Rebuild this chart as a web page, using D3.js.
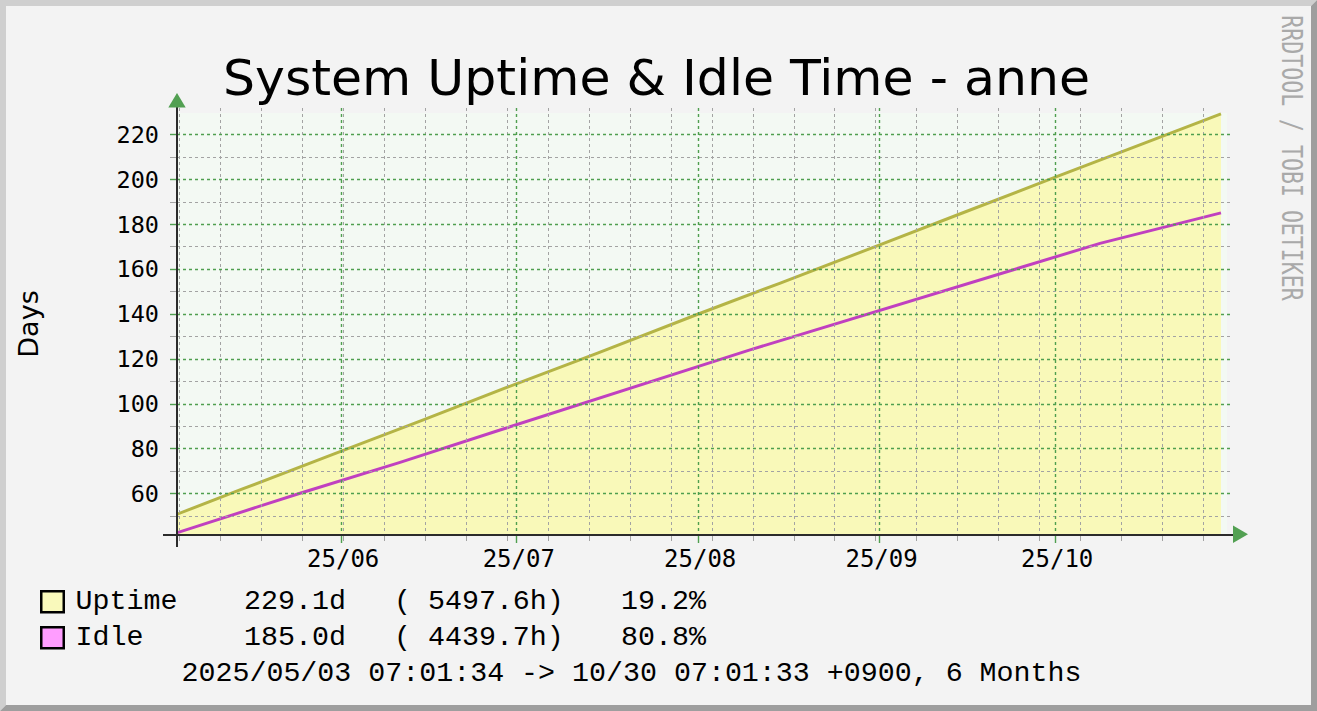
<!DOCTYPE html>
<html><head><meta charset="utf-8">
<script src="https://cdn.jsdelivr.net/npm/d3@7"></script>
<style>html,body{margin:0;padding:0;background:#f3f3f3;}svg{display:block;}</style>
</head><body>
<svg id="c" width="1317" height="711"></svg>
<script>
// ---- data ----
const title = "System Uptime & Idle Time - anne";
const yAxisLabel = "Days";
const watermark = "RRDTOOL / TOBI OETIKER";
const timeStart = "2025-05-03T07:01:34+09:00";
const timeEnd = "2025-10-30T07:01:33+09:00";
const uptimeDates = ["2025-05-03T07:00:00+09:00","2025-05-15T00:00:00+09:00","2025-06-01T00:00:00+09:00","2025-06-15T00:00:00+09:00","2025-07-01T00:00:00+09:00","2025-07-15T00:00:00+09:00","2025-08-01T00:00:00+09:00","2025-08-15T00:00:00+09:00","2025-09-01T00:00:00+09:00","2025-09-15T00:00:00+09:00","2025-10-01T00:00:00+09:00","2025-10-15T00:00:00+09:00","2025-10-29T10:00:00+09:00"];
const uptimeValues = [49.9, 61.7, 78.7, 92.6, 108.8, 122.6, 139.8, 153.6, 170.6, 184.7, 200.8, 214.7, 229.1];
const idleDates = ["2025-05-03T07:00:00+09:00","2025-05-25T01:30:00+09:00","2025-06-11T03:30:00+09:00","2025-06-28T05:20:00+09:00","2025-08-09T22:40:00+09:00","2025-10-08T17:50:00+09:00","2025-10-29T10:00:00+09:00"];
const idleValues = [41.8, 60.0, 73.8, 88.2, 123.9, 171.4, 185.0];
const yMin = 41.4, yMax = 229.5;
const yMajorTicks = [60, 80, 100, 120, 140, 160, 180, 200, 220];
const yMinorTicks = [50, 70, 90, 110, 130, 150, 170, 190, 210];
const monthTicks = ["2025-06-01T00:00:00+09:00","2025-07-01T00:00:00+09:00","2025-08-01T00:00:00+09:00","2025-09-01T00:00:00+09:00","2025-10-01T00:00:00+09:00"];
const monthLabels = ["25/06","25/07","25/08","25/09","25/10"];
const legendNames = ["Uptime", "Idle"];
const legendDays = ["229.1d", "185.0d"];
const legendHours = ["( 5497.6h)", "( 4439.7h)"];
const legendPct = ["19.2%", "80.8%"];
const footer = "2025/05/03 07:01:34 -> 10/30 07:01:33 +0900, 6 Months";

// ---- layout ----
const W = 1317, H = 711;
const pL = 177, pR = 1227, pT = 113, pB = 535;
const svg = d3.select("#c");
const mono = "'DejaVu Sans Mono', monospace";
const legMono = "'Liberation Mono', 'DejaVu Sans Mono', monospace";

// frame
svg.append("rect").attr("width", W).attr("height", H).attr("fill", "#f3f3f3");
svg.append("polygon").attr("points", `0,0 ${W},0 ${W-6},6 6,6 6,${H-6} 0,${H}`).attr("fill", "#cfcfcf");
svg.append("polygon").attr("points", `${W},0 ${W},${H} 0,${H} 6,${H-6} ${W-6},${H-6} ${W-6},6`).attr("fill", "#9e9e9e");

const x = d3.scaleTime().domain([new Date(timeStart), new Date(timeEnd)]).range([172.7, 1226.1]);
const y = d3.scaleLinear().domain([yMin, yMax]).range([pB, pT]);

// canvas
svg.append("rect").attr("x", pL).attr("y", pT).attr("width", pR - pL).attr("height", pB - pT).attr("fill", "#f3f9f3");

svg.append("defs").append("clipPath").attr("id", "clip")
  .append("rect").attr("x", pL).attr("y", pT - 3).attr("width", pR - pL).attr("height", pB - pT + 3);

// area
const up = uptimeDates.map((d, i) => ({t: new Date(d), v: uptimeValues[i]}));
const idle = idleDates.map((d, i) => ({t: new Date(d), v: idleValues[i]}));
const g = svg.append("g").attr("clip-path", "url(#clip)");
g.append("path").datum(up)
  .attr("d", d3.area().x(d => x(d.t)).y0(pB).y1(d => y(d.v)))
  .attr("fill", "#f9f9b9");

// grid
const weekly = d3.timeSunday.range(new Date(timeStart), new Date(timeEnd));
const monthSet = new Set(monthTicks.map(d => +new Date(d)));
const gridG = svg.append("g");
weekly.filter(d => !monthSet.has(+d)).forEach(d => {
  const xx = Math.round(x(d)) + 0.5;
  gridG.append("line").attr("x1", xx).attr("x2", xx).attr("y1", 108).attr("y2", pB)
    .attr("stroke", "#a3a3a3").attr("stroke-width", 1).attr("stroke-dasharray", "3,3");
  gridG.append("line").attr("x1", xx).attr("x2", xx).attr("y1", pB).attr("y2", 541)
    .attr("stroke", "#a3a3a3").attr("stroke-width", 1);
});
yMinorTicks.forEach(v => {
  const yy = Math.round(y(v)) + 0.5;
  gridG.append("line").attr("x1", 170).attr("x2", pL).attr("y1", yy).attr("y2", yy)
    .attr("stroke", "#a3a3a3").attr("stroke-width", 1);
  gridG.append("line").attr("x1", pL).attr("x2", 1233).attr("y1", yy).attr("y2", yy)
    .attr("stroke", "#a3a3a3").attr("stroke-width", 1).attr("stroke-dasharray", "3,3");
});
monthTicks.forEach(d => {
  const xx = Math.round(x(new Date(d))) + 0.5;
  gridG.append("line").attr("x1", xx).attr("x2", xx).attr("y1", 108).attr("y2", pB)
    .attr("stroke", "#4f9f4f").attr("stroke-width", 1.4).attr("stroke-dasharray", "3,3");
  gridG.append("line").attr("x1", xx).attr("x2", xx).attr("y1", pB).attr("y2", 543)
    .attr("stroke", "#4f9f4f").attr("stroke-width", 1.4);
});
yMajorTicks.forEach(v => {
  const yy = Math.round(y(v)) + 0.5;
  gridG.append("line").attr("x1", 170).attr("x2", pL).attr("y1", yy).attr("y2", yy)
    .attr("stroke", "#4f9f4f").attr("stroke-width", 1.4);
  gridG.append("line").attr("x1", pL).attr("x2", 1233).attr("y1", yy).attr("y2", yy)
    .attr("stroke", "#4f9f4f").attr("stroke-width", 1.4).attr("stroke-dasharray", "3,3");
});

// lines
g.append("path").datum(up)
  .attr("d", d3.line().x(d => x(d.t)).y(d => y(d.v)))
  .attr("fill", "none").attr("stroke", "#b4b446").attr("stroke-width", 3);
g.append("path").datum(idle)
  .attr("d", d3.line().x(d => x(d.t)).y(d => y(d.v)))
  .attr("fill", "none").attr("stroke", "#c040c0").attr("stroke-width", 3);

// axes
svg.append("line").attr("x1", 163).attr("x2", 1234).attr("y1", pB).attr("y2", pB).attr("stroke", "#2b2b2b").attr("stroke-width", 2);
svg.append("line").attr("x1", pL).attr("x2", pL).attr("y1", 106).attr("y2", 547).attr("stroke", "#2b2b2b").attr("stroke-width", 2);
svg.append("polygon").attr("points", `168.3,107.5 185.7,107.5 177,93`).attr("fill", "#52a052");
svg.append("polygon").attr("points", `1233,525.5 1233,543 1248,534.3`).attr("fill", "#52a052");

// y labels
svg.append("g").selectAll("text").data(yMajorTicks).join("text")
  .attr("x", 159).attr("y", d => y(d) + 8.5).attr("text-anchor", "end")
  .attr("font-family", mono).attr("font-size", 23.5).attr("fill", "#000").text(d => d);
// x labels
svg.append("g").selectAll("text").data(monthTicks).join("text")
  .attr("x", (d, i) => x(new Date(d)) + 2.5).attr("y", 567).attr("text-anchor", "middle")
  .attr("font-family", mono).attr("font-size", 24).attr("fill", "#000").text((d, i) => monthLabels[i]);

// title
svg.append("text").attr("x", 656.5).attr("y", 95).attr("text-anchor", "middle")
  .attr("font-family", "'DejaVu Sans', sans-serif").attr("font-size", 50.5).attr("fill", "#000").text(title);
// y axis label
svg.append("text").attr("transform", "translate(38,324) rotate(-90)").attr("text-anchor", "middle")
  .attr("font-family", "'DejaVu Sans', sans-serif").attr("font-size", 27).attr("fill", "#000").text(yAxisLabel);
// watermark
svg.append("text").attr("transform", "translate(1282,158) rotate(90) scale(0.98,1.3)").attr("text-anchor", "middle")
  .attr("font-family", mono).attr("font-size", 22).attr("fill", "#a9a9a9").text(watermark);

// legend
const swFill = ["#f9f9bb", "#ff9dff"];
const legY = [609, 645];
legendNames.forEach((n, i) => {
  svg.append("rect").attr("x", 41.25).attr("y", legY[i] - 17.75).attr("width", 22.5).attr("height", 21)
    .attr("fill", swFill[i]).attr("stroke", "#000").attr("stroke-width", 2.5);
  const t = (tx, s) => svg.append("text").attr("x", tx).attr("y", legY[i])
    .attr("font-family", legMono).attr("font-size", 28.3).attr("fill", "#000").attr("xml:space", "preserve").text(s);
  t(75.5, n); t(244, legendDays[i]); t(394, legendHours[i]); t(621, legendPct[i]);
});
svg.append("text").attr("x", 181.5).attr("y", 681).attr("font-family", legMono).attr("font-size", 28.3)
  .attr("fill", "#000").attr("xml:space", "preserve").text(footer);
</script>
</body></html>
